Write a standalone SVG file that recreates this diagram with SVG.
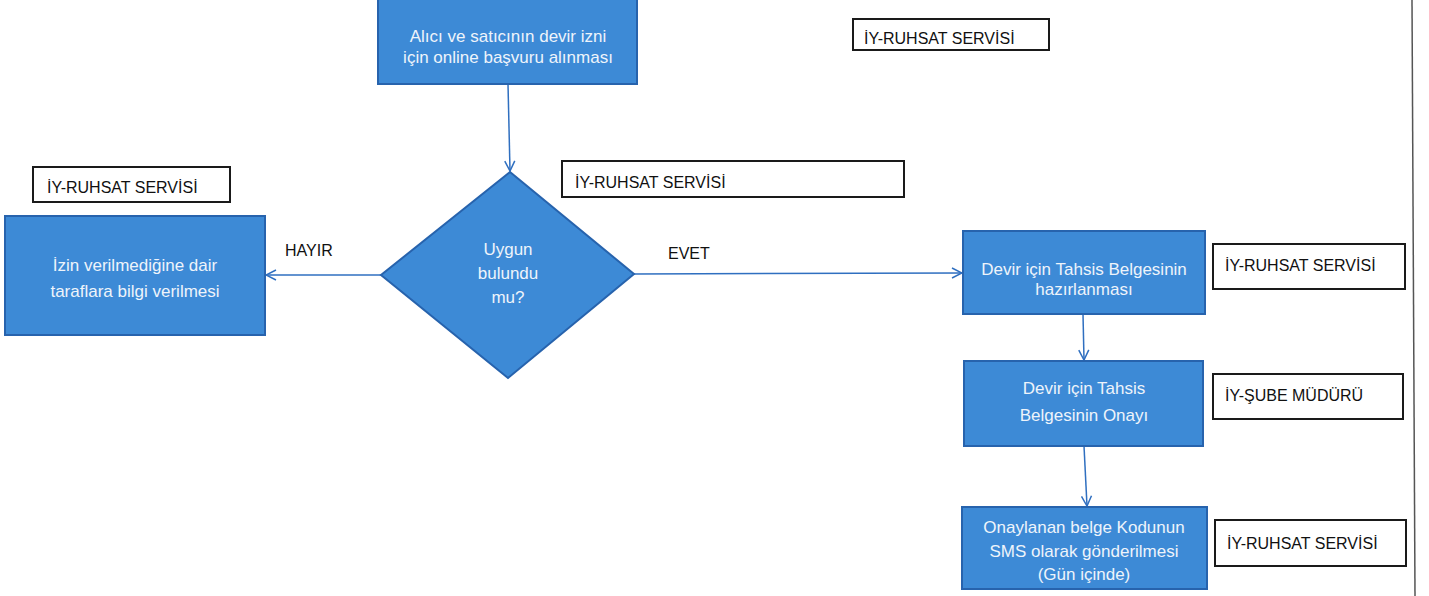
<svg xmlns="http://www.w3.org/2000/svg" width="1429" height="596" viewBox="0 0 1429 596">
<defs>
<style>
.node{fill:#3d8ad6;stroke:#2763ad;stroke-width:2}
.nt{font-family:"Liberation Sans","Noto Sans",sans-serif;font-size:17px;fill:#eef4fb;text-anchor:middle}
.lab{fill:#ffffff;stroke:#1a1a1a;stroke-width:2}
.lt{font-family:"Liberation Sans","Noto Sans",sans-serif;font-size:16px;fill:#111111}
.conn{stroke:#2f6fc0;stroke-width:1.5;fill:none}
</style>
<marker id="ah" viewBox="0 0 12 12" refX="11" refY="6" markerWidth="12" markerHeight="12" markerUnits="userSpaceOnUse" orient="auto">
<path d="M1,1 L11,6 L1,11" fill="none" stroke="#2f6fc0" stroke-width="1.5"/>
</marker>
</defs>
<rect width="1429" height="596" fill="#ffffff"/>
<line x1="1412" y1="0" x2="1415" y2="596" stroke="#555555" stroke-width="1.5"/>
<g id="connectors">
<line class="conn" x1="508" y1="84" x2="510" y2="171" marker-end="url(#ah)"/>
<line class="conn" x1="381" y1="275" x2="266" y2="275" marker-end="url(#ah)"/>
<line class="conn" x1="634" y1="274" x2="962" y2="273" marker-end="url(#ah)"/>
<line class="conn" x1="1083" y1="314" x2="1084" y2="360" marker-end="url(#ah)"/>
<line class="conn" x1="1084" y1="446" x2="1087" y2="506" marker-end="url(#ah)"/>
</g>
<g id="n-start">
<rect class="node" x="378" y="-2" width="259" height="86"/>
<text class="nt" x="508" y="42">Alıcı ve satıcının devir izni</text>
<text class="nt" x="508" y="63">için online başvuru alınması</text>
</g>
<g id="n-decision">
<polygon class="node" points="510,172 634,274 508,378 381,275"/>
<text class="nt" x="508" y="255">Uygun</text>
<text class="nt" x="508" y="279">bulundu</text>
<text class="nt" x="508" y="303">mu?</text>
</g>
<g id="n-no">
<rect class="node" x="5" y="216" width="260" height="119"/>
<text class="nt" x="135" y="271">İzin verilmediğine dair</text>
<text class="nt" x="135" y="297">taraflara bilgi verilmesi</text>
</g>
<g id="n-prep">
<rect class="node" x="963" y="231" width="242" height="83"/>
<text class="nt" x="1084" y="275">Devir için Tahsis Belgesinin</text>
<text class="nt" x="1084" y="295">hazırlanması</text>
</g>
<g id="n-approve">
<rect class="node" x="964" y="361" width="239" height="85"/>
<text class="nt" x="1084" y="394">Devir için Tahsis</text>
<text class="nt" x="1084" y="421">Belgesinin Onayı</text>
</g>
<g id="n-sms">
<rect class="node" x="962" y="507" width="245" height="82"/>
<text class="nt" x="1084" y="533">Onaylanan belge Kodunun</text>
<text class="nt" x="1084" y="557">SMS olarak gönderilmesi</text>
<text class="nt" x="1084" y="580">(Gün içinde)</text>
</g>
<g id="edge-labels">
<text class="lt" x="285" y="256">HAYIR</text>
<text class="lt" x="668" y="259">EVET</text>
</g>
<g id="l-top">
<rect class="lab" x="853" y="19" width="196" height="31"/>
<text class="lt" x="864" y="44">İY-RUHSAT SERVİSİ</text>
</g>
<g id="l-decision">
<rect class="lab" x="562" y="161" width="342" height="36"/>
<text class="lt" x="575" y="188">İY-RUHSAT SERVİSİ</text>
</g>
<g id="l-no">
<rect class="lab" x="33" y="167" width="197" height="35"/>
<text class="lt" x="47" y="193">İY-RUHSAT SERVİSİ</text>
</g>
<g id="l-prep">
<rect class="lab" x="1213" y="244" width="192" height="45"/>
<text class="lt" x="1225" y="271">İY-RUHSAT SERVİSİ</text>
</g>
<g id="l-approve">
<rect class="lab" x="1213" y="374" width="190" height="45"/>
<text class="lt" x="1225" y="401">İY-ŞUBE MÜDÜRÜ</text>
</g>
<g id="l-sms">
<rect class="lab" x="1215" y="520" width="191" height="46"/>
<text class="lt" x="1227" y="549">İY-RUHSAT SERVİSİ</text>
</g>
</svg>
